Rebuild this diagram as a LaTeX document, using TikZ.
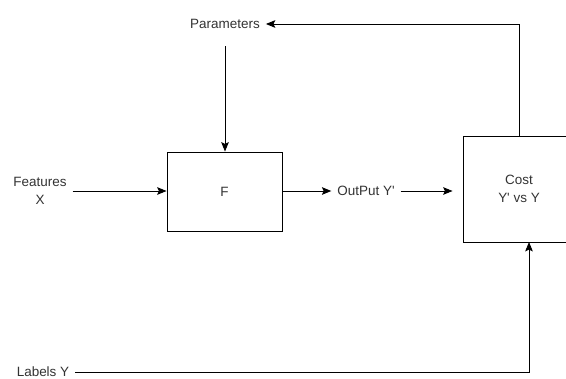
\documentclass[tikz,border=0pt]{standalone}
\usepackage{fontspec}
\setmainfont{Liberation Sans}
\usetikzlibrary{arrows.meta}

\begin{document}
\begin{tikzpicture}[
  every node/.style={font=\fontsize{11.5}{15}\selectfont, text=black!80},
  blok/.style={draw, line width=0.8pt, minimum width=3.45cm, minimum height=2.37cm, align=center},
  txt/.style={inner sep=5pt, align=center},
  arr/.style={-{Stealth[length=8pt,width=6.5pt,inset=1.5pt]}, line width=0.8pt}
]
\useasboundingbox (0,0) rectangle (16.98,11.34);
\clip (0,0) rectangle (16.98,11.34);
% boxes and texts
\node[txt] (params) at (6.75,10.62) {Parameters};
\node[blok] (F) at (6.735,5.595) {F};
\node[txt] (features) at (1.2,5.61) {Features\\X};
\node[txt] (out) at (10.98,5.61) {OutPut Y\textquotesingle};
\node[blok, minimum width=3.36cm, minimum height=3.18cm] (cost) at (15.57,5.67) {Cost\\Y\textquotesingle{} vs Y};
\node[txt] (labels) at (1.29,0.18) {Labels Y};
\coordinate (lin) at (15.87,4.08);
% arrows
\draw[arr] (features) -- (features -| F.west);
\draw[arr, shorten <=0.35cm] (params.south) -- (params.south |- F.north);
\draw[arr] (F.east |- out) -- (out);
\draw[arr, shorten >=0.3cm] (out) -- (out -| cost.west);
\draw[arr] (cost.north) |- (params);
\draw[arr] (labels) -| (lin);
\end{tikzpicture}
\end{document}
